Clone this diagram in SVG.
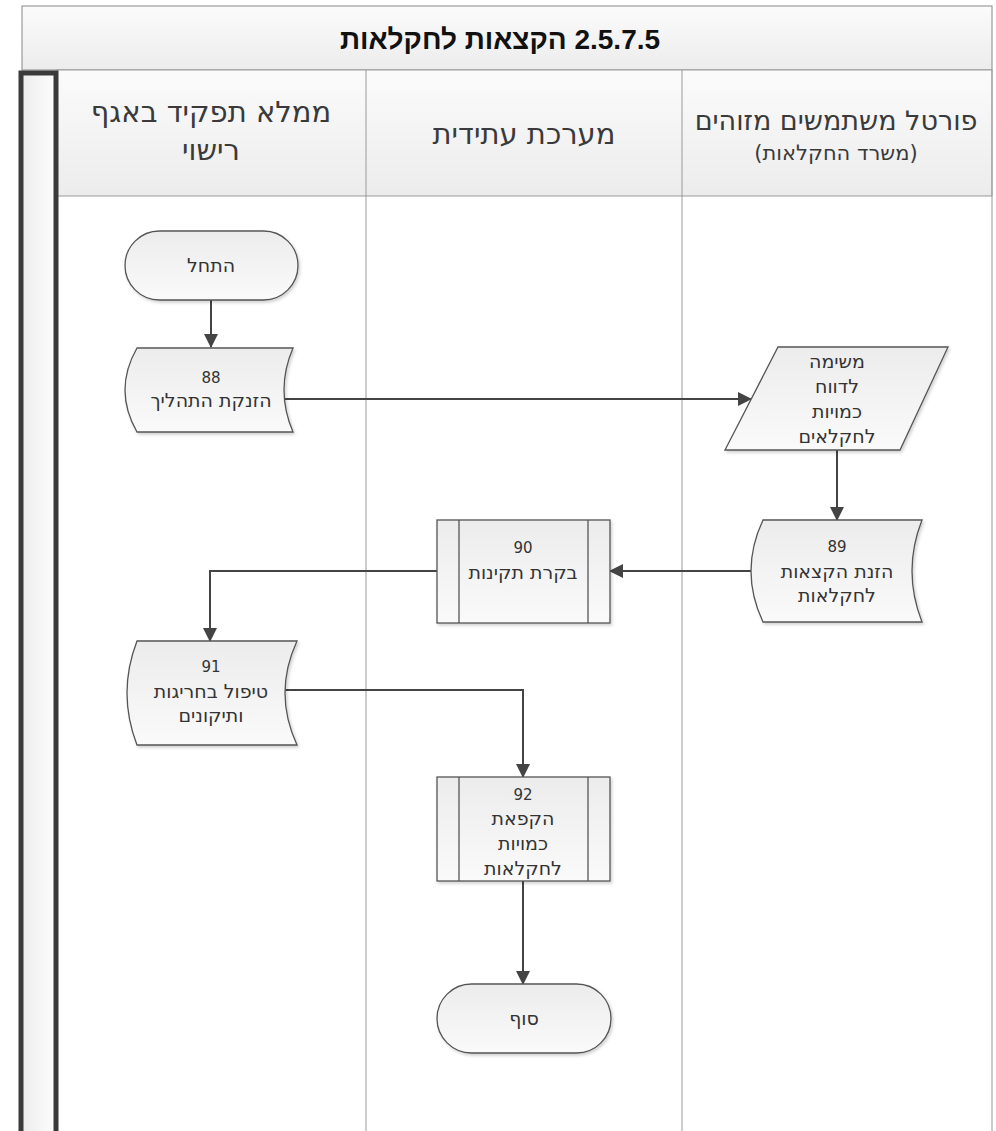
<svg xmlns="http://www.w3.org/2000/svg" width="996" height="1131" viewBox="0 0 996 1131">
<style>
.hdr{font-family:"DejaVu Sans","Liberation Sans",sans-serif;font-size:29px;fill:#3a3a3a;text-anchor:middle;}
.hdr3{font-family:"DejaVu Sans","Liberation Sans",sans-serif;font-size:27px;fill:#3a3a3a;text-anchor:middle;}
.hdrs{font-family:"DejaVu Sans","Liberation Sans",sans-serif;font-size:21px;fill:#3a3a3a;text-anchor:middle;}
.ttl{font-family:"Liberation Sans","DejaVu Sans",sans-serif;font-size:28px;font-weight:bold;fill:#111;text-anchor:middle;}
.t{font-family:"DejaVu Sans","Liberation Sans",sans-serif;font-size:19px;fill:#333;text-anchor:middle;}
.n{font-family:"DejaVu Sans","Liberation Sans",sans-serif;font-size:15px;fill:#333;text-anchor:middle;}
.shape{fill:url(#nodeGrad);stroke:#555;stroke-width:1.3;filter:url(#sh);}
.inner{stroke:#555;stroke-width:1.3;fill:none;}
.lane{stroke:#9a9a9a;stroke-width:1;fill:none;}
.conn{stroke:#444;stroke-width:2;fill:none;marker-end:url(#arr);}
</style>
<defs>
<linearGradient id="nodeGrad" x1="0" y1="0" x2="0" y2="1">
<stop offset="0" stop-color="#ececec"/>
<stop offset="1" stop-color="#fafafa"/>
</linearGradient>
<linearGradient id="hdrGrad" x1="0" y1="0" x2="0" y2="1">
<stop offset="0" stop-color="#fbfbfb"/>
<stop offset="1" stop-color="#ececec"/>
</linearGradient>
<linearGradient id="barGrad" x1="0" y1="0" x2="1" y2="0">
<stop offset="0" stop-color="#ececec"/>
<stop offset="1" stop-color="#fdfdfd"/>
</linearGradient>
<filter id="sh" x="-10%" y="-10%" width="125%" height="125%">
<feDropShadow dx="1.5" dy="2" stdDeviation="1.5" flood-color="#000" flood-opacity="0.18"/>
</filter>
<marker id="arr" markerWidth="14" markerHeight="14" refX="13" refY="7" orient="auto" markerUnits="userSpaceOnUse">
<path d="M0,0 L14,7 L0,14 Z" fill="#444"/>
</marker>
</defs>
<rect width="996" height="1131" fill="#fff"/>
<g id="title">
<rect x="22" y="6" width="970" height="64" fill="url(#hdrGrad)" stroke="#888" stroke-width="1"/>
<text class="ttl" x="500" y="49" direction="rtl">2.5.7.5 הקצאות לחקלאות</text>
</g>
<g id="lanes">
<rect x="57" y="70" width="935" height="126" fill="url(#hdrGrad)" stroke="#999" stroke-width="1"/>
<line class="lane" x1="366" y1="70" x2="366" y2="1131"/>
<line class="lane" x1="682" y1="70" x2="682" y2="1131"/>
<line class="lane" x1="992" y1="70" x2="992" y2="1131"/>
<rect x="21" y="73" width="35" height="1070" fill="url(#barGrad)" stroke="#3a3a3a" stroke-width="5"/>
<text class="hdr" x="211" y="122" direction="rtl">ממלא תפקיד באגף</text>
<text class="hdr" x="211" y="160" direction="rtl">רישוי</text>
<text class="hdr" x="524" y="144" direction="rtl">מערכת עתידית</text>
<text class="hdr3" x="836" y="130" direction="rtl">פורטל משתמשים מזוהים</text>
<text class="hdrs" x="836" y="160" direction="rtl">(משרד החקלאות)</text>
</g>
<g id="connectors">
<line class="conn" x1="211" y1="300" x2="211" y2="347"/>
<line class="conn" x1="285" y1="399" x2="751" y2="399"/>
<line class="conn" x1="837" y1="450" x2="837" y2="520"/>
<line class="conn" x1="751" y1="571" x2="610" y2="571"/>
<polyline class="conn" points="437,571 210,571 210,641"/>
<polyline class="conn" points="285,690 523,690 523,777"/>
<line class="conn" x1="523" y1="881" x2="523" y2="984"/>
</g>
<g id="start">
<rect class="shape" x="125" y="231" width="173" height="69" rx="34.5"/>
<text class="t" x="211" y="272" direction="rtl">התחל</text>
</g>
<g id="n88">
<path class="shape" d="M137,348 L293,348 Q275,390 293,432 L137,432 Q113,390 137,348 Z"/>
<text class="n" x="211" y="383">88</text>
<text class="t" x="211" y="407" direction="rtl">הזנקת התהליך</text>
</g>
<g id="task">
<path class="shape" d="M778,347 L948,347 L900,450 L725,450 Z"/>
<text class="t" x="837" y="368" direction="rtl">משימה</text>
<text class="t" x="837" y="393" direction="rtl">לדווח</text>
<text class="t" x="837" y="418" direction="rtl">כמויות</text>
<text class="t" x="837" y="443" direction="rtl">לחקלאים</text>
</g>
<g id="n89">
<path class="shape" d="M763,520 L922,520 Q902,571 922,622 L763,622 Q739,571 763,520 Z"/>
<text class="n" x="837" y="552">89</text>
<text class="t" x="837" y="578" direction="rtl">הזנת הקצאות</text>
<text class="t" x="837" y="602" direction="rtl">לחקלאות</text>
</g>
<g id="n90">
<rect class="shape" x="437" y="520" width="173" height="103"/>
<line class="inner" x1="459" y1="520" x2="459" y2="623"/>
<line class="inner" x1="588" y1="520" x2="588" y2="623"/>
<text class="n" x="523" y="553">90</text>
<text class="t" x="523" y="579" direction="rtl">בקרת תקינות</text>
</g>
<g id="n91">
<path class="shape" d="M137,641 L297,641 Q273,693 297,745 L137,745 Q117,693 137,641 Z"/>
<text class="n" x="211" y="672">91</text>
<text class="t" x="211" y="698" direction="rtl">טיפול בחריגות</text>
<text class="t" x="211" y="722" direction="rtl">ותיקונים</text>
</g>
<g id="n92">
<rect class="shape" x="437" y="777" width="173" height="104"/>
<line class="inner" x1="459" y1="777" x2="459" y2="881"/>
<line class="inner" x1="588" y1="777" x2="588" y2="881"/>
<text class="n" x="523" y="800">92</text>
<text class="t" x="523" y="825" direction="rtl">הקפאת</text>
<text class="t" x="523" y="850" direction="rtl">כמויות</text>
<text class="t" x="523" y="875" direction="rtl">לחקלאות</text>
</g>
<g id="end">
<rect class="shape" x="437" y="984" width="174" height="69" rx="34.5"/>
<text class="t" x="524" y="1025" direction="rtl">סוף</text>
</g>
</svg>
